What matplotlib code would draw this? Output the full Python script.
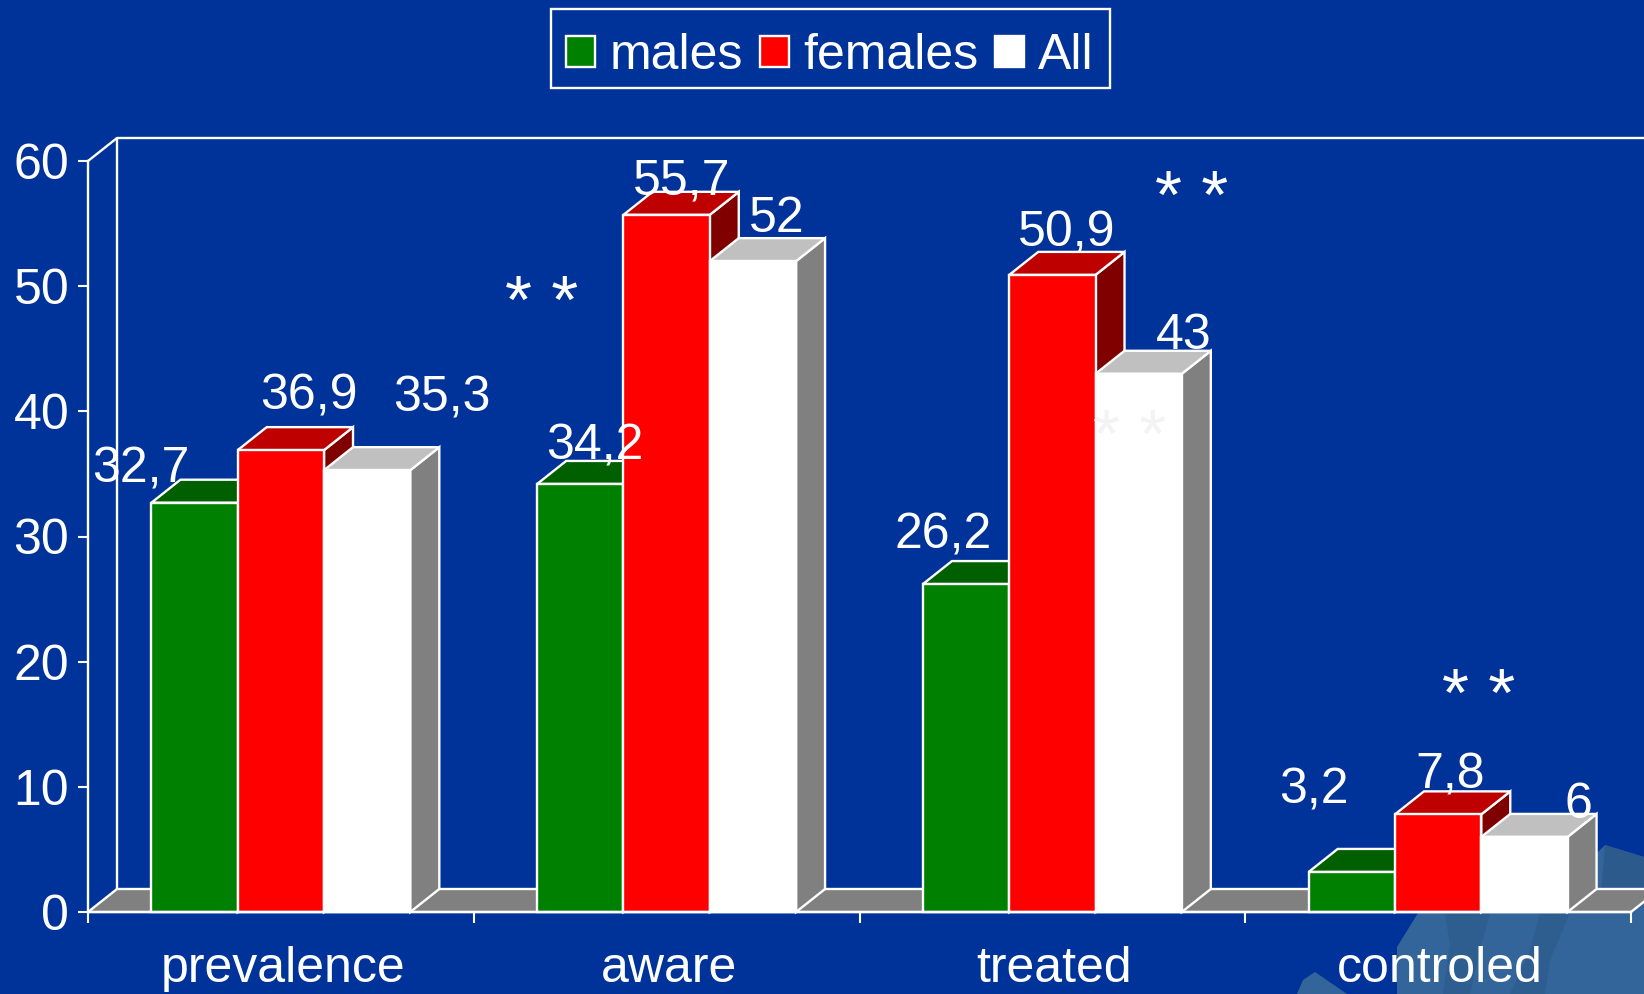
import numpy as np
import matplotlib
matplotlib.use("Agg")
import matplotlib.pyplot as plt
from matplotlib.patches import Polygon, Patch, Rectangle

categories = ['prevalence', 'aware', 'treated', 'controled']
males = [32.7, 34.2, 26.2, 3.2]
females = [36.9, 55.7, 50.9, 7.8]
all_people = [35.3, 52, 43, 6]
y_ticks = [0, 10, 20, 30, 40, 50, 60]

# label offsets from the top centre of each bar, in pixels
male_offsets = [(-54, 20), (14, 24), (-23, 36), (-38, 68)]
female_offsets = [(28, 41), (15, 20), (14, 28), (12, 26)]
all_offsets = [(75, 59), (24, 29), (45, 25), (54, 19)]

# star marks: category position, value height, colour
stars = [(1.175, 48.5, 'white'), (2.86, 56.9, 'white'),
         (2.70, 37.8, '#f3f3f3'), (3.606, 17.1, 'white')]

W, H = 1644, 994
BG = '#003399'
plt.rcParams['font.family'] = ['Liberation Sans', 'DejaVu Sans']

fig = plt.figure(figsize=(W / 100, H / 100), dpi=100, facecolor=BG)
ax = fig.add_axes([88 / W, (H - 912) / H, (1631 - 88) / W, (912 - 161) / H])
ax.set_xlim(0, 4)
ax.set_ylim(0, 60)
ax.patch.set_visible(False)


# the faded map in the lower right corner of the slide
def blob(points, color):
    pts = [(x / W, 1 - y / H) for x, y in points]
    fig.add_artist(Polygon(pts, closed=True, facecolor=color, edgecolor='none',
                           transform=fig.transFigure, zorder=-5))


blob([(1397, 994), (1397, 947), (1418, 913), (1480, 880), (1590, 860), (1605, 845),
      (1644, 857), (1644, 994)], '#33659a')
blob([(1443, 994), (1450, 945), (1445, 913), (1490, 913), (1480, 950), (1470, 994)], '#2e5d90')
blob([(1510, 994), (1530, 950), (1540, 913), (1570, 913), (1550, 960), (1545, 994)], '#2e5d90')
blob([(1605, 845), (1644, 857), (1644, 900), (1600, 905)], '#2c5a8c')
blob([(1297, 994), (1303, 980), (1315, 972), (1347, 994)], '#33659a')

dx = 29 / ((1631 - 88) / 4)
dy = 23 / ((912 - 161) / 60)
bar_w = 0.2237
gap = (1 - 3 * bar_w) / 2
line = dict(color='white', lw=1.7, clip_on=False, solid_capstyle='butt')
edge = dict(edgecolor='white', lw=1.7, clip_on=False, joinstyle='miter')

# floor and back wall
ax.add_patch(Polygon([(0, 0), (dx, dy), (4 + dx, dy), (4, 0)], facecolor='#808080',
                     zorder=1, **edge))
ax.plot([dx, dx, 4 + dx], [dy, 60 + dy, 60 + dy], zorder=1, **line)
ax.plot([0, dx], [60, 60 + dy], zorder=1, **line)

series = [(males, '#008000', '#006000', '#004000', male_offsets),
          (females, '#ff0000', '#bf0000', '#800000', female_offsets),
          (all_people, '#ffffff', '#c0c0c0', '#808080', all_offsets)]

z = 2
for i in range(len(categories)):
    for j, (values, front, top, side, offsets) in enumerate(series):
        x0 = i + gap + j * bar_w
        x1 = x0 + bar_w
        v = values[i]
        ax.add_patch(Polygon([(x1, 0), (x1 + dx, dy), (x1 + dx, v + dy), (x1, v)],
                             facecolor=side, zorder=z, **edge))
        ax.add_patch(Polygon([(x0, v), (x0 + dx, v + dy), (x1 + dx, v + dy), (x1, v)],
                             facecolor=top, zorder=z, **edge))
        ax.add_patch(Polygon([(x0, 0), (x0, v), (x1, v), (x1, 0)],
                             facecolor=front, zorder=z, **edge))
        z += 1

for i in range(len(categories)):
    for j, (values, front, top, side, offsets) in enumerate(series):
        xc = i + gap + (j + 0.5) * bar_w
        ax.annotate(f'{values[i]:g}'.replace('.', ','), xy=(xc, values[i]),
                    xytext=offsets[i], textcoords='offset pixels', ha='center',
                    va='baseline', color='white', fontsize=36, zorder=50,
                    annotation_clip=False)

for x, y, color in stars:
    ax.text(x, y, '* *', ha='center', va='center', color=color, fontsize=50, zorder=50)

for name in ['top', 'right']:
    ax.spines[name].set_visible(False)
for name in ['left', 'bottom']:
    ax.spines[name].set_color('white')
    ax.spines[name].set_linewidth(1.7)
    ax.spines[name].set_zorder(40)

ax.set_yticks(y_ticks)
ax.set_xticks(np.arange(5))
ax.set_xticklabels([])
ax.set_xticks(np.arange(4) + 0.505, minor=True)
ax.set_xticklabels(categories, minor=True)
ax.tick_params(axis='y', colors='white', labelsize=36, length=7.5, width=1.5, pad=6)
ax.tick_params(axis='x', which='major', colors='white', length=8, width=1.5)
ax.tick_params(axis='x', which='minor', colors='white', labelsize=36, length=0, pad=24.6)

handles = [Patch(facecolor='#008000', edgecolor='white', lw=1.7, label='males'),
           Patch(facecolor='#ff0000', edgecolor='white', lw=1.7, label='females'),
           Patch(facecolor='#ffffff', edgecolor='white', lw=1.7, label='All')]
fig.legend(handles=handles, ncol=3, loc='center', bbox_to_anchor=(830 / W, 1 - 56 / H),
           fontsize=36, frameon=False, handlelength=0.58, handleheight=0.6, handletextpad=0.28,
           columnspacing=0.34, borderpad=0.26, labelcolor='white', borderaxespad=0)
fig.add_artist(Rectangle((551 / W, 1 - 88 / H), 559 / W, 79 / H, fill=False, edgecolor='white',
                         lw=1.7, transform=fig.transFigure))

fig.savefig('out.png', dpi=100, facecolor=BG)
